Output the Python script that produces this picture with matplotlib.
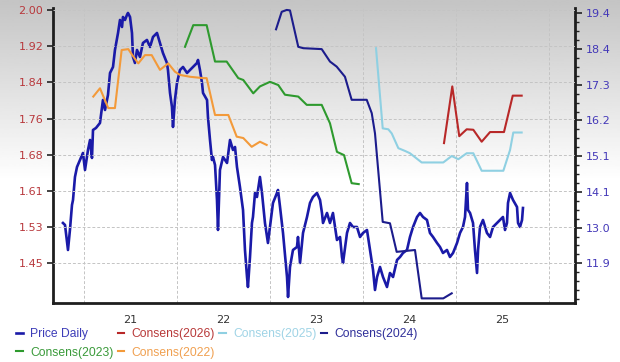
import matplotlib
matplotlib.use('Agg')
import matplotlib.pyplot as plt
from matplotlib.ticker import FixedLocator, NullFormatter
import numpy as np

# x values are decimal years; year labels sit mid-year, gridlines on Jan 1
year_labels = ['21', '22', '23', '24', '25']
year_label_pos = [2021.5, 2022.5, 2023.5, 2024.5, 2025.5]
year_grid = [2021, 2022, 2023, 2024, 2025, 2026]

eps_tick_labels = ['2.00', '1.92', '1.84', '1.76', '1.68', '1.61', '1.53', '1.45']
price_tick_labels = ['19.4', '18.4', '17.3', '16.2', '15.1', '14.1', '13.0', '11.9']

# daily price (right axis)
price_t = [2020.774, 2020.796, 2020.828, 2020.849, 2020.871, 2020.882, 2020.903, 2020.925, 2020.957, 2020.989,
           2021.011, 2021.043, 2021.065, 2021.086, 2021.097, 2021.129, 2021.172, 2021.204, 2021.226, 2021.258,
           2021.280, 2021.312, 2021.333, 2021.366, 2021.387, 2021.409, 2021.419, 2021.441, 2021.462, 2021.473,
           2021.495, 2021.516, 2021.527, 2021.548, 2021.570, 2021.602, 2021.634, 2021.677, 2021.710, 2021.742,
           2021.785, 2021.817, 2021.849, 2021.892, 2021.903, 2021.925, 2021.946, 2021.957, 2021.978, 2022.000,
           2022.032, 2022.065, 2022.108, 2022.140, 2022.172, 2022.215, 2022.226, 2022.247, 2022.269, 2022.280,
           2022.323, 2022.333, 2022.355, 2022.376, 2022.387, 2022.409, 2022.430, 2022.441, 2022.462, 2022.495,
           2022.538, 2022.570, 2022.602, 2022.624, 2022.645, 2022.677, 2022.710, 2022.731, 2022.753, 2022.763,
           2022.785, 2022.806, 2022.817, 2022.839, 2022.860, 2022.892, 2022.914, 2022.946, 2022.978, 2023.000,
           2023.032, 2023.075, 2023.086, 2023.108, 2023.140, 2023.183, 2023.194, 2023.215, 2023.247, 2023.290,
           2023.301, 2023.323, 2023.355, 2023.398, 2023.430, 2023.462, 2023.505, 2023.538, 2023.559, 2023.570,
           2023.613, 2023.645, 2023.677, 2023.720, 2023.753, 2023.774, 2023.785, 2023.828, 2023.860, 2023.892,
           2023.935, 2023.968, 2024.000, 2024.043, 2024.075, 2024.097, 2024.108, 2024.129, 2024.151, 2024.183,
           2024.215, 2024.258, 2024.290, 2024.323, 2024.366, 2024.398, 2024.430, 2024.473, 2024.505, 2024.538,
           2024.581, 2024.613, 2024.645, 2024.688, 2024.720, 2024.753, 2024.796, 2024.828, 2024.860, 2024.903,
           2024.935, 2024.968, 2025.011, 2025.043, 2025.075, 2025.097, 2025.118, 2025.129, 2025.151, 2025.183,
           2025.204, 2025.226, 2025.237, 2025.258, 2025.290, 2025.333, 2025.366, 2025.398, 2025.441, 2025.473,
           2025.505, 2025.527, 2025.548, 2025.559, 2025.581, 2025.613, 2025.656, 2025.667, 2025.688, 2025.710,
           2025.720]
price_v = [13.11, 13.05, 12.30, 12.90, 13.65, 13.80, 14.49, 14.79, 15.00, 15.21,
           14.70, 15.30, 15.60, 15.06, 15.90, 15.96, 16.11, 16.80, 16.50, 16.95,
           17.61, 17.79, 18.30, 18.81, 19.20, 18.99, 19.29, 19.20, 19.35, 19.41,
           19.29, 18.81, 18.09, 17.91, 18.30, 18.09, 18.51, 18.60, 18.39, 18.69,
           18.81, 18.51, 18.21, 17.91, 17.70, 17.01, 16.59, 15.99, 16.80, 17.31,
           17.70, 17.79, 17.61, 17.70, 17.79, 17.91, 18.00, 17.70, 17.31, 17.01,
           16.80, 16.29, 15.60, 15.00, 15.09, 14.85, 13.80, 12.90, 14.70, 15.09,
           14.91, 15.60, 15.30, 15.39, 14.79, 14.19, 13.50, 12.30, 11.49, 11.19,
           12.09, 13.11, 13.29, 14.01, 13.89, 14.49, 14.01, 13.11, 12.51, 12.99,
           13.71, 14.01, 14.10, 13.59, 12.81, 11.49, 10.89, 11.79, 12.30, 12.39,
           12.69, 11.91, 12.81, 13.29, 13.71, 13.89, 14.01, 13.80, 13.41, 13.11,
           13.41, 13.11, 13.41, 12.60, 12.69, 12.09, 11.91, 12.81, 13.11, 12.99,
           12.99, 12.69, 12.81, 12.90, 12.30, 11.91, 11.70, 11.10, 11.49, 11.79,
           11.49, 11.19, 11.61, 11.49, 12.00, 12.09, 12.21, 12.30, 12.69, 12.99,
           13.29, 13.41, 13.29, 13.20, 12.81, 12.69, 12.51, 12.39, 12.21, 12.30,
           12.09, 12.21, 12.51, 12.81, 12.99, 13.29, 14.31, 13.50, 13.41, 13.11,
           12.30, 11.61, 12.30, 12.99, 13.20, 12.81, 12.69, 12.99, 13.11, 13.20,
           13.29, 12.90, 13.11, 13.71, 14.01, 13.80, 13.59, 13.11, 12.99, 13.20,
           13.56]

# consensus EPS estimates (left axis)
c2022_t = [2021.100, 2021.172, 2021.261, 2021.333, 2021.405, 2021.476, 2021.530, 2021.584, 2021.656, 2021.728,
           2021.817, 2021.906, 2021.978, 2022.032, 2022.140, 2022.283, 2022.319, 2022.409, 2022.552, 2022.642,
           2022.713, 2022.803, 2022.892, 2022.964]
c2022_v = [1.812, 1.830, 1.787, 1.787, 1.913, 1.915, 1.899, 1.884, 1.902, 1.902,
           1.870, 1.884, 1.866, 1.859, 1.855, 1.852, 1.852, 1.772, 1.772, 1.725,
           1.722, 1.703, 1.714, 1.707]

c2023_t = [2022.086, 2022.175, 2022.319, 2022.409, 2022.534, 2022.659, 2022.713, 2022.820, 2022.892, 2023.000,
           2023.089, 2023.161, 2023.304, 2023.395, 2023.556, 2023.645, 2023.720, 2023.796, 2023.878, 2023.954]
c2023_v = [1.920, 1.967, 1.967, 1.888, 1.888, 1.852, 1.848, 1.819, 1.834, 1.844,
           1.837, 1.816, 1.812, 1.794, 1.794, 1.754, 1.692, 1.685, 1.624, 1.622]

c2024_t = [2023.065, 2023.126, 2023.180, 2023.215, 2023.304, 2023.358, 2023.556, 2023.645, 2023.717, 2023.806,
           2023.878, 2024.040, 2024.094, 2024.129, 2024.212, 2024.290, 2024.362, 2024.559, 2024.631, 2024.863,
           2024.954]
c2024_v = [1.958, 1.996, 2.000, 1.999, 1.920, 1.917, 1.915, 1.888, 1.877, 1.855,
           1.805, 1.805, 1.776, 1.732, 1.540, 1.537, 1.475, 1.479, 1.374, 1.374,
           1.385]

c2025_t = [2024.140, 2024.212, 2024.272, 2024.309, 2024.380, 2024.452, 2024.505, 2024.631, 2024.863, 2024.954,
           2025.025, 2025.115, 2025.186, 2025.276, 2025.509, 2025.581, 2025.616, 2025.706]
c2025_v = [1.917, 1.743, 1.741, 1.732, 1.700, 1.694, 1.689, 1.669, 1.669, 1.683,
           1.676, 1.689, 1.689, 1.651, 1.651, 1.696, 1.734, 1.734]

c2026_t = [2024.871, 2024.960, 2025.035, 2025.115, 2025.186, 2025.276, 2025.366, 2025.516, 2025.610, 2025.706]
c2026_v = [1.711, 1.834, 1.726, 1.741, 1.740, 1.714, 1.735, 1.735, 1.814, 1.814]

fig = plt.figure(figsize=(6.2, 3.62), dpi=100)

# grey-to-white backdrop behind everything
bg = fig.add_axes([0, 0, 1, 1], zorder=-10)
shade = np.clip(0.77 + 0.23 * np.linspace(0, 1, 200) / 0.5, 0, 1).reshape(-1, 1)
bg.imshow(shade, aspect='auto', extent=[0, 1, 0, 1], cmap='gray', vmin=0, vmax=1)
bg.axis('off')

ax = fig.add_axes([0.0855, 0.163, 0.842, 0.815])
ax.patch.set_alpha(0)
ax2 = ax.twinx()

# price on host axis, ticks on the right
p_line, = ax.plot(price_t, price_v, color='#1a1aa8', lw=1.9)
ax.set_ylim(10.71, 19.56)
price_pos = np.linspace(19.4, 11.9, 8)
ax.yaxis.tick_right()
ax.yaxis.set_major_locator(FixedLocator(price_pos))
ax.set_yticklabels(price_tick_labels)
step = (19.4 - 11.9) / 7 / 4
ax.yaxis.set_minor_locator(FixedLocator(np.arange(19.4 - 40 * step, 19.56, step)))
ax.yaxis.set_minor_formatter(NullFormatter())
ax.tick_params(axis='y', which='major', colors='#222222', labelcolor='#4338b8',
               length=5, width=1.2, labelsize=8, pad=3, direction='out')
ax.tick_params(axis='y', which='minor', colors='#222222', length=3, width=1.0, direction='out')

# consensus lines on twin, ticks on the left
c24, = ax2.plot(c2024_t, c2024_v, color='#1c1c8c', lw=1.5)
c23, = ax2.plot(c2023_t, c2023_v, color='#2e9a2e', lw=1.5)
c22, = ax2.plot(c2022_t, c2022_v, color='#f39a3a', lw=1.5)
c25, = ax2.plot(c2025_t, c2025_v, color='#8fd0e2', lw=1.5)
c26, = ax2.plot(c2026_t, c2026_v, color='#b82828', lw=1.5)
ax2.set_ylim(1.364, 2.0043)
ax2.yaxis.tick_left()
ax2.yaxis.set_major_locator(FixedLocator(np.linspace(2.00, 1.45, 8)))
ax2.set_yticklabels(eps_tick_labels)
ax2.tick_params(axis='y', colors='#222222', labelcolor='#b8383c', length=4, width=1.2,
                labelsize=8, pad=3, direction='out')
ax2.grid(axis='y', color='#c4c4c4', ls=(0, (3, 2)), lw=0.7)

ax.set_xlim(2020.667, 2026.28)
ax.xaxis.set_major_locator(FixedLocator(year_label_pos))
ax.set_xticklabels(year_labels)
ax.xaxis.set_minor_locator(FixedLocator(year_grid))
ax.tick_params(axis='x', which='both', length=0, labelsize=8, labelcolor='#333333', pad=9)
ax.grid(axis='x', which='minor', color='#c4c4c4', ls=(0, (3, 2)), lw=0.7)

for a in (ax, ax2):
    for s in a.spines.values():
        s.set_visible(False)
for side in ('left', 'bottom', 'right'):
    ax.spines[side].set_visible(True)
    ax.spines[side].set_color('#1e1e1e')
    ax.spines[side].set_linewidth(2.0)

handles = [p_line, c23, c26, c22, c25, c24]
labels = ['Price Daily', 'Consens(2023)', 'Consens(2026)', 'Consens(2022)', 'Consens(2025)', 'Consens(2024)']
text_cols = ['#3d3db8', '#3a9a3a', '#b83a3a', '#f0a050', '#a0d4e6', '#30309a']
fig.legend(handles, labels, loc='upper left', bbox_to_anchor=(0.026, 0.094), ncol=4,
           frameon=False, handlelength=0.55, handletextpad=0.6, columnspacing=0.35,
           labelspacing=0.55, borderaxespad=0, borderpad=0,
           prop={'family': 'Liberation Sans', 'size': 8.7}, labelcolor=text_cols)

fig.savefig('out.png', dpi=100)
